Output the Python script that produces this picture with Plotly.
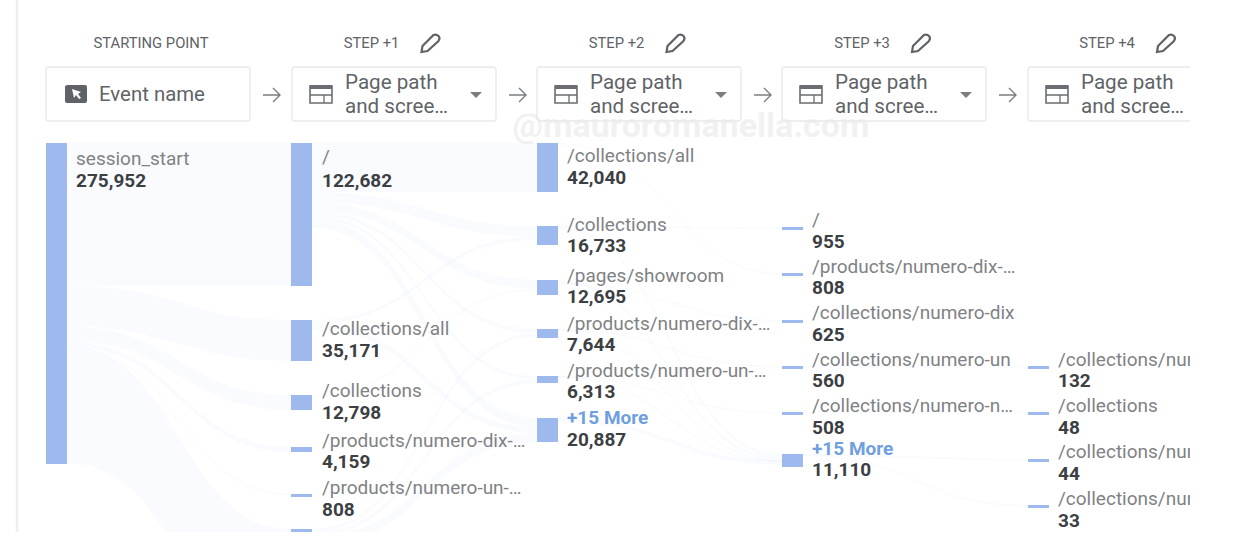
import plotly.graph_objects as go

# ---------- data ----------
STEP_TITLES = ["STARTING POINT", "STEP +1", "STEP +2", "STEP +3", "STEP +4"]
STEP_0_LABELS = ["session_start"]
STEP_0_VALUES = [275952]
STEP_1_LABELS = ["/", "/collections/all", "/collections", "/products/numero-dix-…", "/products/numero-un-…", ""]
STEP_1_VALUES = [122682, 35171, 12798, 4159, 808, 100334]
STEP_2_LABELS = ["/collections/all", "/collections", "/pages/showroom", "/products/numero-dix-…", "/products/numero-un-…", "+15 More"]
STEP_2_VALUES = [42040, 16733, 12695, 7644, 6313, 20887]
STEP_3_LABELS = ["/", "/products/numero-dix-…", "/collections/numero-dix", "/collections/numero-un", "/collections/numero-n…", "+15 More"]
STEP_3_VALUES = [955, 808, 625, 560, 508, 11110]
STEP_4_LABELS = ["/collections/numero-dix", "/collections", "/collections/numero-un", "/collections/numero-n"]
STEP_4_VALUES = [132, 48, 44, 33]

# flows: (source index in step n, target index in step n+1, sessions)
FLOWS_0 = [(0, 0, 122682), (0, 1, 35171), (0, 2, 12798), (0, 3, 4159), (0, 4, 808), (0, 5, 100334)]
FLOWS_1 = [(0, 0, 42040), (0, 1, 9000), (0, 2, 7500), (0, 3, 3500), (0, 4, 3000), (0, 5, 8000),
           (1, 1, 3000), (1, 5, 5000), (2, 2, 1500), (5, 3, 3144), (5, 4, 3313), (5, 5, 7887)]
FLOWS_2 = [(1, 0, 955), (1, 5, 3000), (0, 1, 808), (2, 5, 2500), (2, 2, 625),
           (3, 3, 560), (3, 5, 1100), (4, 4, 508), (4, 5, 1000), (5, 5, 3510)]
FLOWS_3 = [(3, 0, 132), (4, 1, 48), (5, 2, 44), (5, 3, 33)]

# ---------- layout (page pixels) ----------
W, H = 1234, 554
CLIP_R, CLIP_B = 1190, 532
TOP = 143
PX_PER_SESSION = 321 / 275952
COL_X0 = 56.5
COL_DX = 245.4
BAR_W = 21
MIN_BAR_PX = 2.5
BAR_TOPS = [[143], [143, 320, 395, 447, 494, 529], [143, 226, 280, 329, 376, 418],
            [227, 273, 320, 366, 412, 454], [366, 412, 459, 505]]
LABEL_Y = [[160], [158, 330, 392, 442, 489, None], [157, 226, 277, 325, 372, 419],
           [221, 268, 314, 361, 407, 450], [361, 407, 453, 500]]
VALUE_Y = [[182], [182, 352, 414, 463, 511, None], [179, 247, 298, 346, 393, 441],
           [243, 289, 336, 382, 429, 471], [382, 429, 475, 522]]
BOX_X = [46, 292, 537, 782, 1028]
TEXT_DX = 30

BLUE = "#9db9ed"
RIBBON = "rgba(66,133,244,0.032)"
GREY_TXT = "#7f8285"
DARK_TXT = "#3c4043"
LINK_TXT = "#6f9fe0"
FONT = "Roboto"

ALL_VALUES = [STEP_0_VALUES, STEP_1_VALUES, STEP_2_VALUES, STEP_3_VALUES, STEP_4_VALUES]
ALL_LABELS = [STEP_0_LABELS, STEP_1_LABELS, STEP_2_LABELS, STEP_3_LABELS, STEP_4_LABELS]
ALL_FLOWS = [FLOWS_0, FLOWS_1, FLOWS_2, FLOWS_3]

to_sessions = lambda py: (py - TOP) / PX_PER_SESSION
bar_w_steps = BAR_W / COL_DX
fig = go.Figure()


def edge(x0, x1, y0, y1, n=40):
    xs, ys = [], []
    for i in range(n + 1):
        s = i / n
        xs.append((1 - s) ** 3 * x0 + 3 * (1 - s) * s * (x0 + x1) / 2 + s ** 3 * x1)
        ys.append((1 - s) ** 3 * y0 + 3 * (1 - s) ** 2 * s * y0 + 3 * (1 - s) * s ** 2 * y1 + s ** 3 * y1)
    return xs, ys


# ribbons
min_thick = to_sessions(TOP + 1.5)
for c, flows in enumerate(ALL_FLOWS):
    out_off = [to_sessions(t) for t in BAR_TOPS[c]]
    in_off = [to_sessions(t) for t in BAR_TOPS[c + 1]]
    x0 = c + bar_w_steps / 2
    x1 = c + 1 - bar_w_steps / 2
    for s, t, v in flows:
        th = max(v, min_thick)
        tx, ty = edge(x0, x1, out_off[s], in_off[t])
        bx, by = edge(x0, x1, out_off[s] + th, in_off[t] + th)
        fig.add_trace(go.Scatter(x=tx + bx[::-1], y=ty + by[::-1], mode="lines", fill="toself",
                                 fillcolor=RIBBON, line=dict(width=0), hoverinfo="skip", showlegend=False))
        out_off[s] += v if v > min_thick else 0
        in_off[t] += v if v > min_thick else 0

# bars
for c, vals in enumerate(ALL_VALUES):
    fig.add_trace(go.Bar(x=[c] * len(vals), y=[max(v, to_sessions(TOP + MIN_BAR_PX)) for v in vals],
                         base=[to_sessions(t) for t in BAR_TOPS[c]], width=bar_w_steps,
                         marker=dict(color=BLUE, line=dict(width=0)), hoverinfo="skip", showlegend=False))

# node labels and counts (pixel axes)
lx, ly, lt, mx, my, mt, vx, vy, vt = [], [], [], [], [], [], [], [], []
for c in range(5):
    px = BOX_X[c] + TEXT_DX
    for i, lab in enumerate(ALL_LABELS[c]):
        if LABEL_Y[c][i] is None:
            continue
        if lab.startswith("+"):
            mx.append(px); my.append(LABEL_Y[c][i]); mt.append(lab)
        else:
            lx.append(px); ly.append(LABEL_Y[c][i]); lt.append(lab)
        vx.append(px); vy.append(VALUE_Y[c][i]); vt.append(f"{ALL_VALUES[c][i]:,}")


def text_trace(x, y, t, size, color, weight=400, pos="middle right"):
    fig.add_trace(go.Scatter(x=x, y=y, text=t, mode="text", textposition=pos, xaxis="x2", yaxis="y2",
                             textfont=dict(family=FONT, size=size, color=color, weight=weight),
                             hoverinfo="skip", showlegend=False))


text_trace(lx, ly, lt, 19, GREY_TXT)
text_trace(mx, my, mt, 19, LINK_TXT, 700)
text_trace(vx, vy, vt, 19, DARK_TXT, 700)

# column headers
hdr_x = [151, 371.5, 616.5, 862, 1107]
text_trace(hdr_x, [44.5] * 5, STEP_TITLES, 14.8, "#5f6368", 400, "middle center")
text_trace([99], [95.5], ["Event name"], 20.4, "#5f6368")
text_trace([b + 53 for b in BOX_X[1:]], [83.5] * 4, ["Page path"] * 4, 20.6, "#5f6368")
text_trace([b + 53 for b in BOX_X[1:]], [107.5] * 4, ["and scree…"] * 4, 20.6, "#5f6368")
text_trace([691], [128], ["@mauroromanella.com"], 34, "rgba(228,228,228,0.5)", 700, "middle center")

# chrome
shapes = []


def sh(**k):
    k.setdefault("xref", "x2")
    k.setdefault("yref", "y2")
    k.setdefault("layer", "above")
    shapes.append(k)


sh(type="line", x0=17, x1=17, y0=0, y1=532, line=dict(color="#eeeeee", width=2.5), layer="below")
for i, b in enumerate(BOX_X):
    r = b + 204
    sh(type="path", path=f"M{b+3},67 H{r-3} Q{r},67 {r},70 V118 Q{r},121 {r-3},121 H{b+3} Q{b},121 {b},118 V70 Q{b},67 {b+3},67 Z",
       line=dict(color="#e9e9e9", width=1.3), fillcolor="rgba(255,255,255,0)")
    if i < 4:  # flow arrow
        ax = r + 13
        sh(type="path", path=f"M{ax},95 H{ax+17} M{ax+10},88 L{ax+17},95 L{ax+10},102",
           line=dict(color="#7a7e82", width=1.4))
    if i > 0:  # window icon, dropdown, pencil
        ix = b + 18
        sh(type="rect", x0=ix, x1=ix + 22, y0=86, y1=103, line=dict(color="#6a6e72", width=1.6), fillcolor="rgba(0,0,0,0)")
        sh(type="rect", x0=ix, x1=ix + 22, y0=85, y1=89, line=dict(width=0), fillcolor="#6a6e72")
        sh(type="path", path=f"M{ix},95 H{ix+22} M{ix+14},95 V103", line=dict(color="#6a6e72", width=1.3))
        if r < CLIP_R:
            sh(type="path", path=f"M{r-26},92 H{r-14} L{r-20},98 Z", line=dict(width=0), fillcolor="#7a7e82")
        hp = hdr_x[i] + 59
        sh(type="path", path=f"M{hp-9},52 L{hp-8},46 L{hp+3},35 Q{hp+6},34 {hp+8},36 Q{hp+10},38 {hp+8},41 L{hp-3},51 Z",
           line=dict(color="#5f6368", width=2.2), fillcolor="rgba(255,255,255,0)")
# cursor icon
sh(type="path", path="M68,85 H85 Q87,85 87,87 V101 Q87,103 85,103 H68 Q65,103 65,101 V87 Q65,85 68,85 Z",
   line=dict(width=0), fillcolor="#5f6368")
sh(type="path", path="M72,89 L81,92 L78,94 L81,98 L79,99 L76,95 L74,98 Z", line=dict(width=0), fillcolor="#ffffff")

hide = dict(visible=False, fixedrange=True)
fig.update_layout(
    width=W, height=H, margin=dict(l=0, r=W - CLIP_R, t=0, b=H - CLIP_B, pad=0),
    paper_bgcolor="#ffffff", plot_bgcolor="#ffffff", barmode="overlay", bargap=0, showlegend=False,
    xaxis=dict(range=[(0 - COL_X0) / COL_DX, (CLIP_R - COL_X0) / COL_DX], **hide),
    yaxis=dict(range=[to_sessions(CLIP_B), to_sessions(0)], **hide),
    xaxis2=dict(range=[0, CLIP_R], overlaying="x", **hide),
    yaxis2=dict(range=[CLIP_B, 0], overlaying="y", **hide),
    shapes=shapes,
)
fig.write_html("out.html", config={"displayModeBar": False},
               post_script="document.body.style.margin='0';document.documentElement.style.overflow='hidden';")
